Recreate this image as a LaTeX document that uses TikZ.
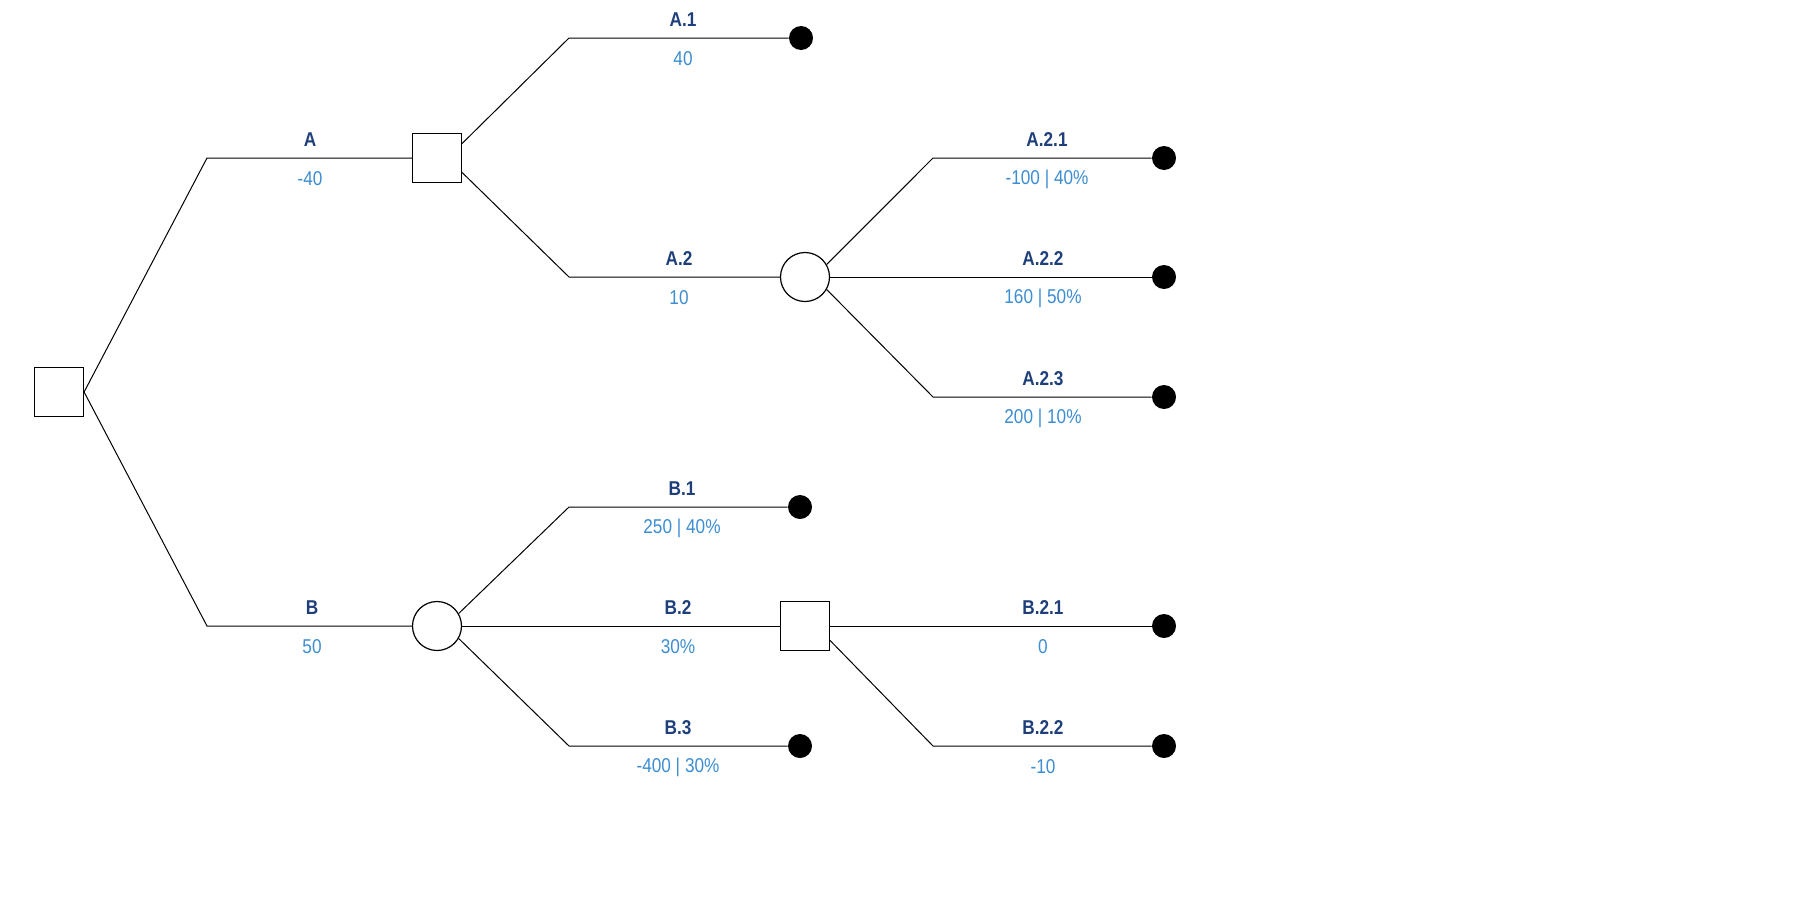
\documentclass[tikz,border=0pt]{standalone}
\usepackage{fontspec}
\setmainfont{Liberation Sans}[FakeStretch=0.86]
\usepackage{xcolor}
\usepackage{tikz}
\usetikzlibrary{positioning, shapes.geometric}

\definecolor{namecol}{HTML}{1E3F7A}
\definecolor{valcol}{HTML}{3C8DD2}

\begin{document}
\begin{tikzpicture}[
    x=0.5pt, y=-0.5pt,
    line width=0.5pt,
    decision/.style={rectangle, draw, line width=0.6pt, fill=white,
                     minimum size=24.5pt, inner sep=0pt},
    chance/.style={circle, draw, line width=0.6pt, fill=white,
                   minimum size=24.5pt, inner sep=0pt},
    leaf/.style={circle, fill=black, minimum size=12pt, inner sep=0pt},
    bname/.style={font=\fontsize{10}{12}\selectfont\bfseries, text=namecol},
    bval/.style={font=\fontsize{10}{12}\selectfont, text=valcol}
]
\useasboundingbox (0,0) rectangle (1800,900);

% decision and chance nodes
\node[decision] (root) at (59,392)  {};
\node[decision] (dA)   at (437,158) {};
\node[chance]   (cB)   at (437,626) {};
\node[chance]   (cA2)  at (805,277) {};
\node[decision] (dB2)  at (805,626) {};

% end points
\node[leaf] (tA1)  at (801,38)   {};
\node[leaf] (tA21) at (1164,158) {};
\node[leaf] (tA22) at (1164,277) {};
\node[leaf] (tA23) at (1164,397) {};
\node[leaf] (tB1)  at (800,507)  {};
\node[leaf] (tB3)  at (800,746)  {};
\node[leaf] (tB21) at (1164,626) {};
\node[leaf] (tB22) at (1164,746) {};

% bends
\coordinate (kA)   at (207,158);
\coordinate (kB)   at (207,626);
\coordinate (kA1)  at (569,38);
\coordinate (kA2)  at (569,277);
\coordinate (kA21) at (933,158);
\coordinate (kA23) at (933,397);
\coordinate (kB1)  at (569,507);
\coordinate (kB3)  at (569,746);
\coordinate (kB22) at (933,746);

% branches
\draw (root.east) -- (kA) -- (dA);
\draw (root.east) -- (kB) -- (cB);
\draw (dA.30)  -- (kA1) -- (tA1);
\draw (dA.-30) -- (kA2) -- (cA2);
\draw (cA2.30)  -- (kA21) -- (tA21);
\draw (cA2) -- (tA22);
\draw (cA2.-30) -- (kA23) -- (tA23);
\draw (cB.30)  -- (kB1) -- (tB1);
\draw (cB) -- (dB2);
\draw (cB.-30) -- (kB3) -- (tB3);
\draw (dB2) -- (tB21);
\draw (dB2.-30) -- (kB22) -- (tB22);

% names and values
\foreach \x/\y/\nm/\vl in {
    310/158/A/-40, 683/38/A.1/40, 679/277/A.2/10,
    1047/158/A.2.1/{-100 | 40\%}, 1043/277/A.2.2/{160 | 50\%},
    1043/397/A.2.3/{200 | 10\%},
    312/626/B/50, 682/507/B.1/{250 | 40\%}, 678/626/B.2/{30\%},
    678/746/B.3/{-400 | 30\%},
    1043/626/B.2.1/0, 1043/746/B.2.2/-10} {
  \node[bname] at (\x,\y-18) {\nm};
  \node[bval]  at (\x,\y+21) {\vl};
}
\end{tikzpicture}
\end{document}
